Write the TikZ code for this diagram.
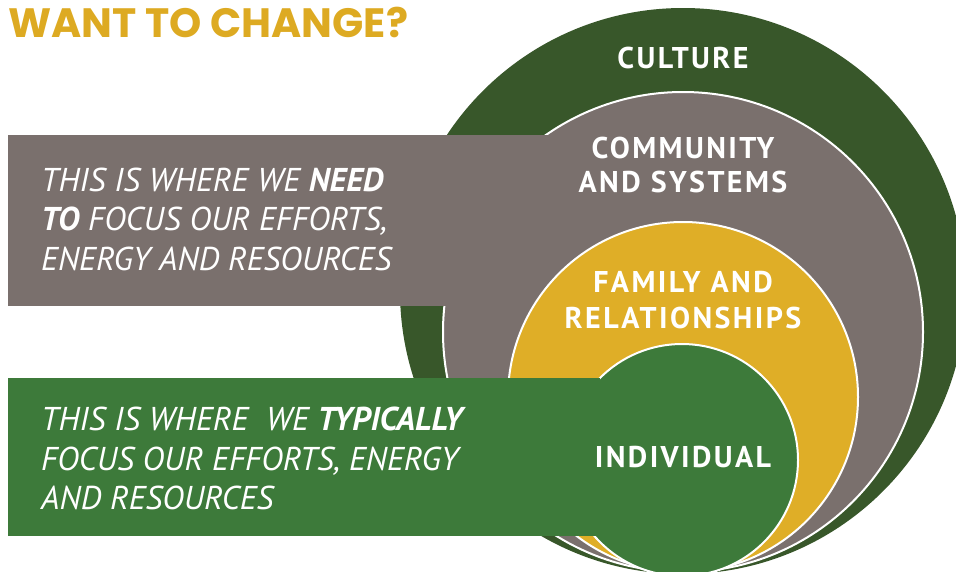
\documentclass[tikz,border=0pt]{standalone}
\usepackage{fontspec}
\setmainfont{PT Sans}
\newfontfamily\titlefont{Poppins}[BoldFont={* Bold}]
\newfontfamily\labelfont{PT Sans}[LetterSpace=8]
\definecolor{dkgreen}{HTML}{38572A}
\definecolor{ringgray}{HTML}{7A706D}
\definecolor{ringgold}{HTML}{DFAE27}
\definecolor{leafgreen}{HTML}{3D7A3A}
\definecolor{titlegold}{HTML}{DDAA22}
\tikzset{
  ring/.style={circle, inner sep=0pt, draw=white, line width=2pt},
  band/.style={inner sep=0pt, anchor=north west},
  ringlabel/.style={inner sep=0pt, anchor=base, text=white, font=\labelfont\fontsize{30}{34}\selectfont\bfseries},
  boxline/.style={inner sep=0pt, anchor=base west, text=white, font=\fontsize{33}{39}\selectfont\itshape},
}
\begin{document}
\begin{tikzpicture}[x=1pt,y=-1pt]
\useasboundingbox (0,0) rectangle (956,571);
% rings
\node[circle, inner sep=0pt, fill=dkgreen, minimum size=566pt] (culture) at (683,291) {};
\node[ring, fill=ringgray, minimum size=480pt] (community) at (683,332) {};
\node[band, fill=ringgray, minimum width=542pt, minimum height=171pt] (needbox) at (8,135) {};
\node[ring, fill=ringgold, minimum size=350pt] (family) at (683,397) {};
\node[ring, fill=leafgreen, minimum size=232pt] (individual) at (682,460) {};
\node[band, fill=leafgreen, minimum width=592pt, minimum height=158pt] (typbox) at (8,378) {};
% title
\node[inner sep=0pt, anchor=base west, text=titlegold, font=\titlefont\fontsize{41}{41}\selectfont\bfseries] (title) at (8,37) {WANT TO CHANGE?};
% ring labels
\node[ringlabel] (lculture) at (683,68) {CULTURE};
\node[ringlabel] (lcomm1) at (683,158) {COMMUNITY};
\node[ringlabel] (lcomm2) at (683,192) {AND SYSTEMS};
\node[ringlabel] (lfam1) at (683,292) {FAMILY AND};
\node[ringlabel] (lfam2) at (683,328) {RELATIONSHIPS};
\node[ringlabel] (lind) at (683,467) {INDIVIDUAL};
% box texts
\node[boxline] (n1) at (41,191) {THIS IS WHERE WE \textbf{NEED}};
\node[boxline] (n2) at (41,230) {\textbf{TO} FOCUS OUR EFFORTS,};
\node[boxline] (n3) at (41,270) {ENERGY AND RESOURCES};
\node[boxline] (t1) at (41,430) {THIS IS WHERE\ \ WE \textbf{TYPICALLY}};
\node[boxline] (t2) at (41,470) {FOCUS OUR EFFORTS, ENERGY};
\node[boxline] (t3) at (41,509) {AND RESOURCES};
\end{tikzpicture}
\end{document}
